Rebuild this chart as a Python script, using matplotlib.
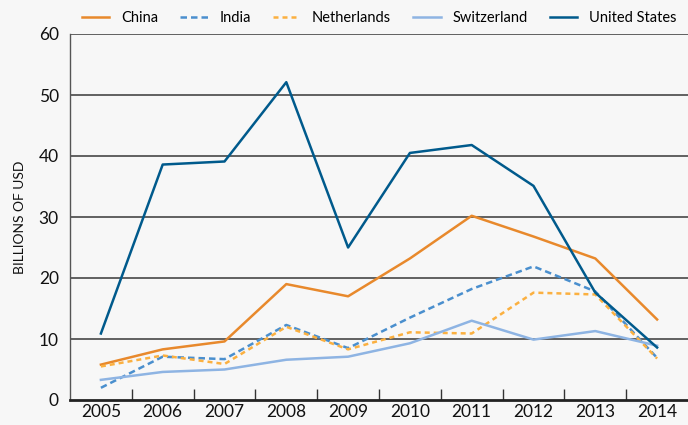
import matplotlib
matplotlib.use('Agg')
import matplotlib.pyplot as plt

# Data (billions of USD)
years = [2005, 2006, 2007, 2008, 2009, 2010, 2011, 2012, 2013, 2014]
china = [5.8, 8.3, 9.6, 19.0, 17.0, 23.2, 30.2, 26.8, 23.2, 13.2]
india = [2.0, 7.1, 6.7, 12.3, 8.5, 13.5, 18.2, 21.9, 17.8, 6.9]
netherlands = [5.5, 7.3, 5.9, 12.0, 8.3, 11.1, 10.9, 17.6, 17.3, 6.8]
switzerland = [3.3, 4.6, 5.0, 6.6, 7.1, 9.3, 13.0, 9.9, 11.3, 8.9]
united_states = [10.9, 38.6, 39.1, 52.1, 25.0, 40.5, 41.8, 35.1, 17.6, 8.6]

series = [
    ('China', china, '#E8892C', '-'),
    ('India', india, '#4A8FCE', (0, (2.6, 1.6))),
    ('Netherlands', netherlands, '#FBB040', (0, (2.0, 1.6))),
    ('Switzerland', switzerland, '#8EB4E3', '-'),
    ('United States', united_states, '#005A8C', '-'),
]

plt.rcParams['font.family'] = ['Lato', 'DejaVu Sans']
bg = '#F7F7F7'

fig = plt.figure(figsize=(6.88, 4.25), dpi=100, facecolor=bg)
ax = fig.add_axes([70 / 688, 25 / 425, 618 / 688, 366 / 425], facecolor=bg)

x = list(range(len(years)))
for name, vals, color, ls in series:
    ax.plot(x, vals, color=color, linestyle=ls, lw=1.8, label=name)

ax.set_xlim(-0.5, len(years) - 0.5)
ax.set_ylim(0, 60)
ax.set_yticks(range(0, 61, 10))
for v in range(10, 61, 10):
    ax.axhline(v, color='#555555', lw=1.3, zorder=0)

# category ticks between years, labels centered on years
ax.set_xticks([i + 0.5 for i in range(len(years) - 1)])
ax.set_xticks(x, minor=True)
ax.set_xticklabels([])
ax.set_xticklabels([str(y) for y in years], minor=True)
ax.tick_params(axis='x', which='major', direction='in', length=8, width=1, color='#333333')
ax.tick_params(axis='x', which='minor', length=0, pad=3, labelsize=12.5, labelcolor='#111111')
ax.tick_params(axis='y', length=0, pad=8, labelsize=12.5, labelcolor='#111111')

for s in ['top', 'right']:
    ax.spines[s].set_visible(False)
ax.spines['left'].set_color('#555555')
ax.spines['left'].set_linewidth(1.0)
ax.spines['bottom'].set_color('#222222')
ax.spines['bottom'].set_linewidth(2.0)

ax.set_ylabel('BILLIONS OF USD', fontsize=10, color='#111111', labelpad=9)

ax.legend(loc='lower center', bbox_to_anchor=(0.5, 1.0), ncol=5, frameon=False,
          fontsize=10.5, handlelength=1.9, handletextpad=0.8, columnspacing=1.5,
          borderaxespad=0.2)

fig.savefig('out.png', dpi=100, facecolor=bg)
